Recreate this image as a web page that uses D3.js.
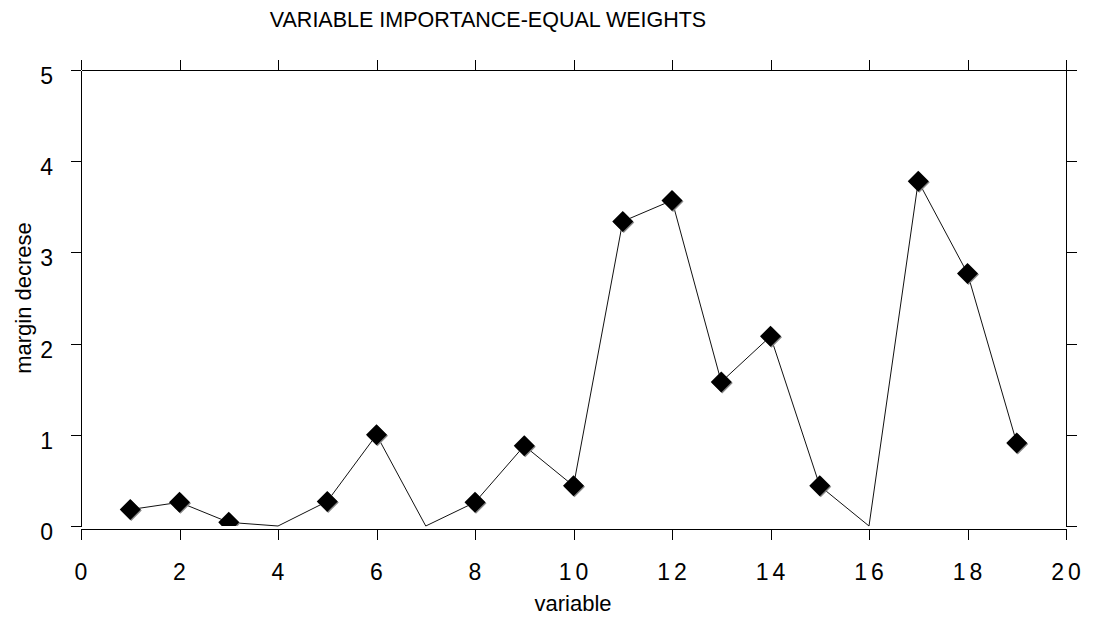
<!DOCTYPE html>
<html>
<head>
<meta charset="utf-8">
<script src="https://cdn.jsdelivr.net/npm/d3@7"></script>
<style>
  html, body { margin: 0; padding: 0; background: #fff; }
  svg { display: block; font-family: "Liberation Sans", Arial, sans-serif; }
  .axis path, .axis line { stroke: #000; shape-rendering: crispEdges; }
  .tick-lbl { font-size: 23px; fill: #000; }
</style>
</head>
<body>
<svg id="chart"></svg>
<script>
// ── Data ────────────────────────────────────────────────────────────────────
const variables = [1, 2, 3, 4, 5, 6, 7, 8, 9, 10, 11, 12, 13, 14, 15, 16, 17, 18, 19];
const marginDecrease = [0.18, 0.26, 0.04, 0.0, 0.27, 1.0, 0.0, 0.26, 0.88, 0.44,
                        3.34, 3.57, 1.58, 2.08, 0.44, 0.0, 3.78, 2.77, 0.91];
const xTicks = [0, 2, 4, 6, 8, 10, 12, 14, 16, 18, 20];
const yTicks = [0, 1, 2, 3, 4, 5];

const TITLE  = "VARIABLE IMPORTANCE-EQUAL WEIGHTS";
const XTITLE = "variable";
const YTITLE = "margin decrese";

// ── Layout ──────────────────────────────────────────────────────────────────
const VW = 1094, VH = 617;
const L = 81, R = 1066, T = 70, B = 526;
const XAXIS_Y = 529;
const MR = 10.5; // marker half-diagonal

const svg = d3.select("#chart").attr("width", VW).attr("height", VH);

const x = d3.scaleLinear().domain([0, 20]).range([L, R]);
const y = d3.scaleLinear().domain([0, 5]).range([B, T]);

svg.append("defs").append("clipPath").attr("id", "plot-clip")
  .append("rect").attr("x", L).attr("y", T).attr("width", R - L).attr("height", B - T);

// ── Axes (frame) ────────────────────────────────────────────────────────────
svg.append("g").attr("class", "axis").attr("transform", `translate(0,${XAXIS_Y})`)
  .call(d3.axisBottom(x).tickValues(xTicks).tickSize(11).tickSizeOuter(0).tickFormat(""));
svg.append("g").attr("class", "axis").attr("transform", `translate(0,${T})`)
  .call(d3.axisTop(x).tickValues(xTicks).tickSize(10).tickSizeOuter(0).tickFormat(""));
svg.append("g").attr("class", "axis").attr("transform", `translate(${L},0)`)
  .call(d3.axisLeft(y).tickValues(yTicks).tickSize(10).tickSizeOuter(0).tickFormat(""));
svg.append("g").attr("class", "axis").attr("transform", `translate(${R},0)`)
  .call(d3.axisRight(y).tickValues(yTicks).tickSize(11).tickSizeOuter(0).tickFormat(""));

// Tick labels
const LS = 4;
svg.append("g").selectAll("text").data(xTicks).join("text")
  .attr("class", "tick-lbl")
  .attr("x", d => x(d) + (String(d).length > 1 ? LS / 2 : 0))
  .attr("y", 580)
  .attr("text-anchor", "middle")
  .attr("letter-spacing", d => String(d).length > 1 ? LS : 0)
  .text(d => d);

svg.append("g").selectAll("text").data(yTicks).join("text")
  .attr("class", "tick-lbl")
  .attr("x", 53)
  .attr("y", d => y(d) + 14)
  .attr("text-anchor", "end")
  .text(d => d);

// Titles
svg.append("text").attr("x", 488).attr("y", 27).attr("text-anchor", "middle")
  .attr("font-size", "21.5px").text(TITLE);
svg.append("text").attr("x", 573).attr("y", 611).attr("text-anchor", "middle")
  .attr("font-size", "22px").text(XTITLE);
svg.append("text").attr("transform", `translate(31,${(T + B) / 2}) rotate(-90)`)
  .attr("text-anchor", "middle").attr("font-size", "22px").text(YTITLE);

// ── Line + markers ──────────────────────────────────────────────────────────
const pts = variables.map((v, i) => ({ v, m: marginDecrease[i] }));

svg.append("path").datum(pts)
  .attr("fill", "none").attr("stroke", "#111").attr("stroke-width", 1)
  .attr("d", d3.line().x(d => x(d.v)).y(d => y(d.m)));

const diamond = `M0,${-MR}L${MR},0L0,${MR}L${-MR},0Z`;
const mk = svg.append("g").attr("clip-path", "url(#plot-clip)")
  .selectAll("g").data(pts.filter(d => d.m > 0)).join("g")
  .attr("transform", d => `translate(${x(d.v)},${y(d.m)})`);
mk.append("path").attr("d", diamond).attr("fill", "#888").attr("transform", "translate(1,1)");
mk.append("path").attr("d", diamond).attr("fill", "#000");
</script>
</body>
</html>
